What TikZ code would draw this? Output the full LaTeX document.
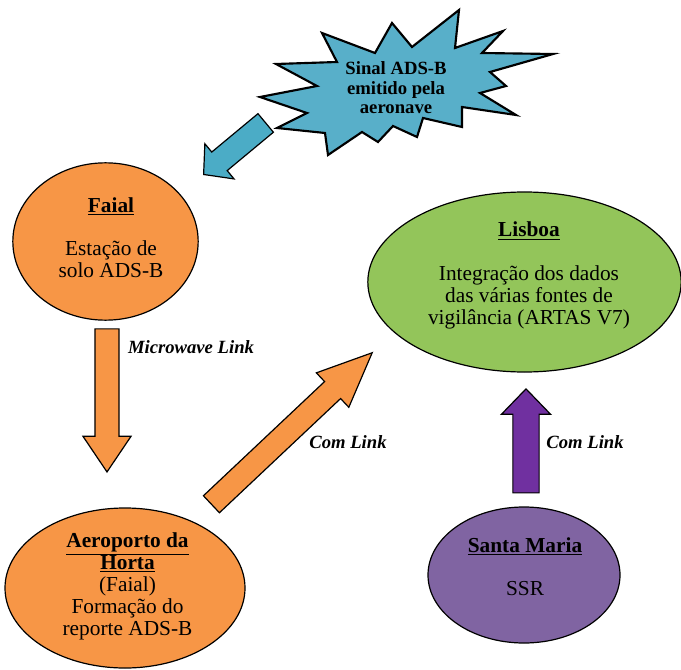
\documentclass[tikz,border=0pt]{standalone}
\usepackage{fontspec}
\setmainfont{Liberation Serif}
\usetikzlibrary{shapes.geometric,shapes.arrows}
\pgfdeclarelayer{edgelayer}
\pgfdeclarelayer{nodelayer}
\pgfsetlayers{edgelayer,nodelayer,main}
\definecolor{siteorange}{HTML}{F79646}
\definecolor{sitegreen}{HTML}{93C55A}
\definecolor{sitepurple}{HTML}{8064A2}
\definecolor{arrowpurple}{HTML}{7030A0}
\definecolor{arrowblue}{HTML}{4BACC6}
\definecolor{burstblue}{HTML}{58AFC9}
\tikzstyle{site}=[ellipse, draw=black, line width=0.9pt, inner sep=0pt]
\tikzstyle{sitetext}=[align=center, inner sep=0pt, font=\fontsize{16}{16.5}\selectfont]
\tikzstyle{bursttext}=[align=center, inner sep=0pt, font=\fontsize{14}{14.6}\selectfont\bfseries]
\tikzstyle{linklabel}=[inner sep=0pt, font=\fontsize{14}{15}\selectfont\bfseries\itshape]
\tikzstyle{bigarrow}=[single arrow, draw=black, line width=0.9pt, inner xsep=0pt, anchor=tip]

\begin{document}
\begin{tikzpicture}[x=0.75pt, y=-0.75pt]
	\useasboundingbox (0,0) rectangle (681,670);
	\begin{pgfonlayer}{edgelayer}
		% starburst
		\draw [fill=burstblue, line width=1.6pt, line join=miter]
			(260,97) -- (317,86) -- (276,64) -- (337,62) -- (322,33) -- (375,53)
			-- (392,23) -- (412,47) -- (459,10) -- (455,48) -- (503,31) -- (482,53)
			-- (553,54) -- (490,72) -- (506,86) -- (480,93) -- (516,115) -- (462,107)
			-- (462,127) -- (423,118) -- (417,137) -- (393,126) -- (378,142) -- (362,132)
			-- (328,155) -- (325,133) -- (277,128) -- (307,113) -- cycle;
	\end{pgfonlayer}
	\begin{pgfonlayer}{nodelayer}
		\node [style=site, fill=siteorange, minimum width=139pt, minimum height=118pt] (faial) at (105.5,241.5) {};
		\node [style=site, fill=sitegreen, minimum width=235pt, minimum height=135pt] (lisboa) at (524.5,282) {};
		\node [style=site, fill=siteorange, minimum width=180pt, minimum height=120pt] (horta) at (125,588) {};
		\node [style=site, fill=sitepurple, minimum width=144pt, minimum height=102pt] (santamaria) at (524,575) {};

		\node [style=bursttext] (burst) at (396,88) {Sinal ADS-B\\emitido pela\\aeronave};
		\node [style=sitetext] (faialtxt) at (111,237.5) {\underline{\textbf{Faial}}\\[16pt]Estação de\\solo ADS-B};
		\node [style=sitetext] (lisboatxt) at (529,275.5) {\underline{\textbf{Lisboa}}\\[16pt]Integração dos dados\\das várias fontes de\\vigilância (ARTAS V7)};
		\node [style=sitetext] (hortatxt) at (127.5,586.5) {\underline{\textbf{Aeroporto da}}\\\underline{\textbf{Horta}}\\(Faial)\\Formação do\\reporte ADS-B};
		\node [style=sitetext] (santamariatxt) at (525,566.5) {\underline{\textbf{Santa Maria}}\\[16pt]SSR};

		% block arrows
		\node [style=bigarrow, fill=arrowblue, rotate=219.7, minimum height=60.5pt, inner ysep=8.6pt, minimum width=33.4pt, single arrow head extend=8.1pt, single arrow tip angle=96] (burstarrow) at (203,175) {};
		\node [style=bigarrow, fill=siteorange, rotate=-90, minimum height=107.3pt, inner ysep=8.6pt, minimum width=35.3pt, single arrow head extend=9pt, single arrow tip angle=68] (microarrow) at (107,473) {};
		\node [style=bigarrow, fill=siteorange, rotate=43.3, minimum height=165.7pt, inner ysep=8.3pt, minimum width=34.5pt, single arrow head extend=9pt, single arrow tip angle=47] (comarrow) at (373.3,351.7) {};
		\node [style=bigarrow, fill=arrowpurple, rotate=90, minimum height=78pt, inner ysep=9.4pt, minimum width=36pt, single arrow head extend=8.6pt, single arrow tip angle=88] (ssrarrow) at (526,388) {};

		\node [style=linklabel] (microlabel) at (191,347) {Microwave Link};
		\node [style=linklabel] (comlabel) at (348,442) {Com Link};
		\node [style=linklabel] (ssrlabel) at (585,442) {Com Link};
	\end{pgfonlayer}
\end{tikzpicture}
\end{document}
